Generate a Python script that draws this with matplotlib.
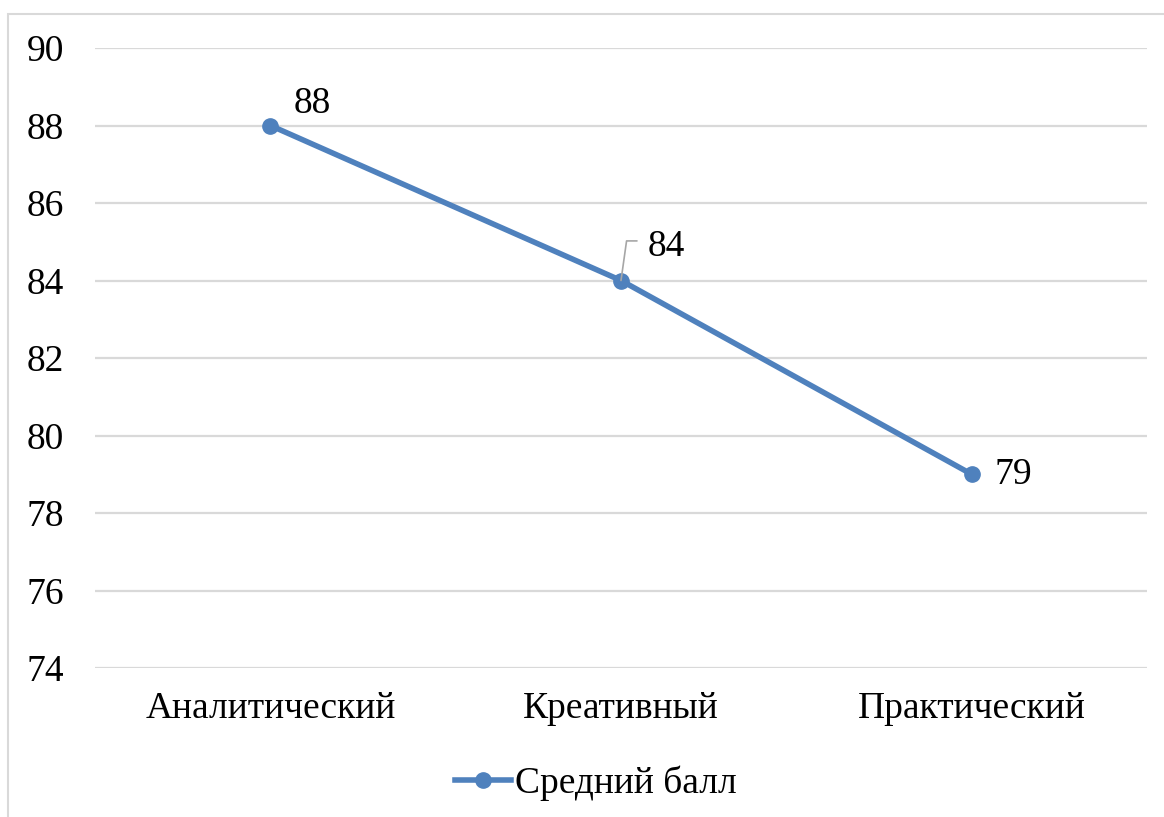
import matplotlib.pyplot as plt
from matplotlib.patches import Rectangle
from matplotlib.lines import Line2D

categories = ["Аналитический", "Креативный", "Практический"]
scores = [88, 84, 79]
series_name = "Средний балл"
yticks = [74, 76, 78, 80, 82, 84, 86, 88, 90]

plt.rcParams['font.family'] = ['Liberation Serif', 'DejaVu Serif']
blue = "#4f81bd"
fs = 27

fig = plt.figure(figsize=(11.64, 8.17), dpi=100)
W, H = 1164, 817

# chart border (right/bottom cut off like the reference)
fig.patches.append(Rectangle((8 / W, -0.1), 1.2, 1 - 14 / H + 0.1,
                             transform=fig.transFigure, fill=False,
                             edgecolor="#d9d9d9", linewidth=1.5))

ax = fig.add_axes([95 / W, 1 - 668 / H, (1147 - 95) / W, (668 - 48) / H])
x = list(range(len(categories)))
ax.plot(x, scores, color=blue, linewidth=4, marker="o", markersize=11,
        solid_capstyle="round", zorder=3)

ax.set_xlim(-0.5, len(categories) - 0.5)
ax.set_ylim(74, 90)
ax.set_yticks(yticks)
ax.set_xticks(x)
ax.set_xticklabels(categories, fontsize=fs)
ax.tick_params(axis="y", labelsize=fs, length=0, pad=22.5)
ax.tick_params(axis="x", length=0, pad=17)
ax.grid(axis="y", color="#d9d9d9", linewidth=1.6)
ax.set_axisbelow(True)
for s in ax.spines.values():
    s.set_visible(False)

# data labels
ax.annotate(str(scores[0]), (x[0], scores[0]), xytext=(16.5, 9),
            textcoords="offset points", fontsize=fs, va="baseline", ha="left")
ax.annotate(str(scores[1]), (x[1], scores[1]), xytext=(19, 18),
            textcoords="offset points", fontsize=fs, va="baseline", ha="left")
ax.annotate("", (x[1], scores[1]), xytext=(11.5, 28.5),
            textcoords="offset points",
            arrowprops=dict(arrowstyle="-", color="#a6a6a6", lw=1.2,
                            connectionstyle="angle,angleA=0,angleB=82,rad=0",
                            shrinkA=0, shrinkB=0))
ax.annotate(str(scores[2]), (x[2], scores[2]), xytext=(16.5, 0),
            textcoords="offset points", fontsize=fs, va="center", ha="left")

handle = Line2D([], [], color=blue, linewidth=4, marker="o", markersize=11)
fig.legend([handle], [series_name], loc="center",
           bbox_to_anchor=(596 / W, 1 - 783 / H),
           frameon=False, fontsize=fs, handlelength=1.5, handletextpad=0.1)

fig.savefig("out.png", dpi=100, facecolor="white")
